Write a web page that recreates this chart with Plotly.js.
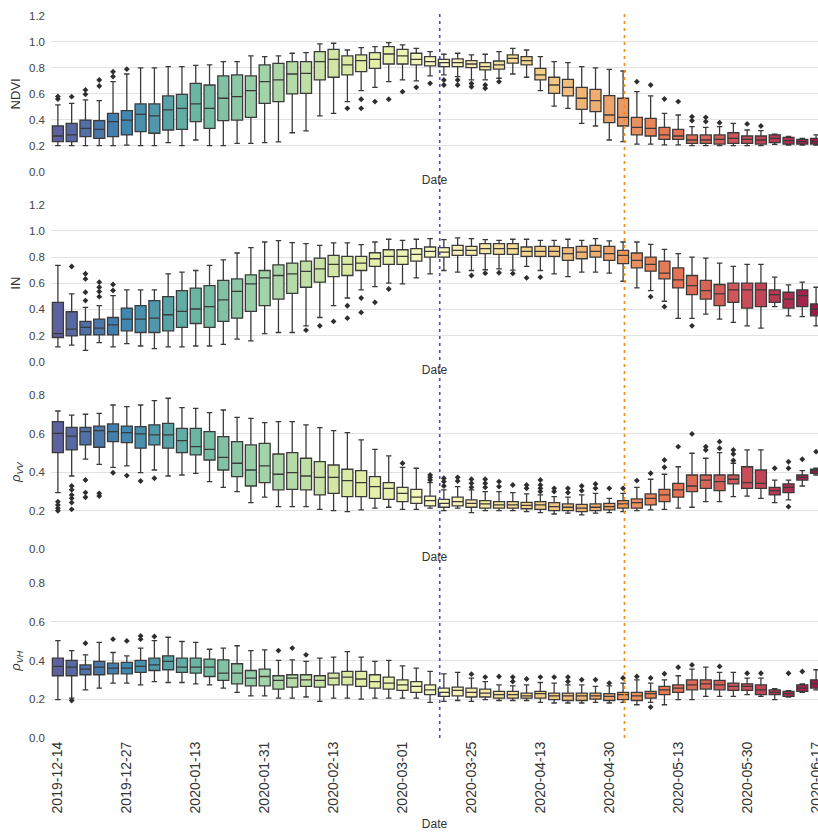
<!DOCTYPE html>
<html>
<head>
<meta charset="utf-8">
<script src="https://cdn.plot.ly/plotly-3.0.1.min.js"></script>
<style>html,body{margin:0;padding:0;background:#fff;}#chart{width:818px;height:839px;}</style>
</head>
<body>
<div id="chart"></div>
<script>
// ---- categories (acquisition dates) ----
const dates = ["2019-12-14","2019-12-16","2019-12-19","2019-12-21","2019-12-24","2019-12-27","2019-12-29","2020-01-01","2020-01-05","2020-01-08",
"2020-01-13","2020-01-16","2020-01-20","2020-01-24","2020-01-28","2020-01-31","2020-02-02","2020-02-05","2020-02-08","2020-02-10",
"2020-02-13","2020-02-16","2020-02-19","2020-02-22","2020-02-26","2020-03-01","2020-03-06","2020-03-11","2020-03-16","2020-03-20",
"2020-03-25","2020-03-29","2020-04-02","2020-04-06","2020-04-09","2020-04-13","2020-04-16","2020-04-20","2020-04-23","2020-04-27",
"2020-04-30","2020-05-03","2020-05-05","2020-05-08","2020-05-11","2020-05-13","2020-05-16","2020-05-20","2020-05-23","2020-05-27",
"2020-05-30","2020-06-03","2020-06-06","2020-06-09","2020-06-13","2020-06-17"];
const tickDates = ["2019-12-14","2019-12-27","2020-01-13","2020-01-31","2020-02-13","2020-03-01","2020-03-25","2020-04-13","2020-04-30","2020-05-13","2020-05-30","2020-06-17"];

// ---- NDVI ----
const ndviQ1  = [0.231,0.231,0.27,0.257,0.27,0.283,0.308,0.296,0.321,0.326,0.386,0.334,0.393,0.398,0.419,0.527,0.54,0.599,0.604,0.707,0.728,0.746,0.771,0.797,0.83,0.83,0.823,0.815,0.81,0.81,0.802,0.784,0.79,0.836,0.823,0.707,0.604,0.584,0.48,0.463,0.378,0.352,0.283,0.275,0.249,0.249,0.218,0.218,0.213,0.218,0.218,0.213,0.224,0.213,0.213,0.213];
const ndviMed = [0.275,0.283,0.334,0.326,0.386,0.398,0.442,0.43,0.476,0.488,0.522,0.488,0.566,0.578,0.625,0.694,0.707,0.753,0.758,0.848,0.866,0.823,0.856,0.866,0.907,0.892,0.866,0.848,0.84,0.84,0.83,0.81,0.823,0.874,0.856,0.746,0.668,0.65,0.566,0.548,0.437,0.419,0.342,0.334,0.283,0.275,0.244,0.244,0.249,0.257,0.249,0.244,0.257,0.239,0.231,0.231];
const ndviQ3  = [0.352,0.373,0.398,0.393,0.45,0.47,0.522,0.522,0.584,0.596,0.681,0.668,0.738,0.746,0.738,0.823,0.835,0.848,0.848,0.925,0.943,0.892,0.90,0.918,0.964,0.943,0.913,0.887,0.866,0.869,0.856,0.84,0.853,0.90,0.887,0.797,0.728,0.712,0.65,0.635,0.586,0.566,0.419,0.411,0.342,0.326,0.283,0.283,0.283,0.30,0.275,0.275,0.283,0.265,0.249,0.257];
const ndviLo  = [0.20,0.20,0.20,0.20,0.20,0.205,0.20,0.20,0.224,0.20,0.244,0.20,0.20,0.218,0.218,0.224,0.23,0.30,0.314,0.43,0.45,0.54,0.625,0.65,0.694,0.707,0.70,0.738,0.746,0.733,0.707,0.707,0.72,0.753,0.728,0.625,0.506,0.488,0.373,0.352,0.244,0.231,0.213,0.213,0.206,0.206,0.20,0.20,0.20,0.20,0.20,0.20,0.21,0.205,0.205,0.205];
const ndviHi  = [0.515,0.527,0.553,0.548,0.694,0.753,0.80,0.80,0.81,0.81,0.82,0.823,0.848,0.848,0.892,0.887,0.892,0.913,0.918,0.985,0.99,0.938,0.956,0.964,0.995,0.977,0.951,0.925,0.905,0.913,0.90,0.905,0.925,0.951,0.938,0.887,0.848,0.84,0.81,0.80,0.789,0.776,0.617,0.584,0.45,0.437,0.347,0.342,0.347,0.373,0.321,0.316,0.29,0.272,0.257,0.283];
const ndviOutIdx = [0,0,1,2,2,3,3,4,4,5,21,22,22,23,24,25,26,27,28,28,29,29,30,30,31,31,32,42,43,44,45,46,46,47,47,48,50,51];
const ndviOutVal = [0.56,0.58,0.578,0.596,0.63,0.66,0.707,0.733,0.771,0.79,0.488,0.558,0.488,0.54,0.558,0.617,0.65,0.681,0.707,0.668,0.707,0.668,0.68,0.655,0.668,0.643,0.694,0.694,0.668,0.56,0.54,0.393,0.424,0.386,0.419,0.378,0.368,0.352];

// ---- IN ----
const inQ1  = [0.185,0.197,0.205,0.205,0.205,0.236,0.223,0.223,0.236,0.262,0.292,0.262,0.308,0.333,0.385,0.428,0.479,0.523,0.569,0.608,0.651,0.659,0.697,0.728,0.744,0.744,0.769,0.80,0.80,0.813,0.813,0.826,0.821,0.821,0.805,0.805,0.805,0.774,0.787,0.80,0.774,0.749,0.718,0.692,0.633,0.564,0.513,0.479,0.428,0.454,0.41,0.421,0.454,0.41,0.421,0.351];
const inMed = [0.215,0.249,0.262,0.256,0.282,0.326,0.326,0.333,0.359,0.385,0.403,0.421,0.472,0.538,0.595,0.641,0.659,0.672,0.69,0.71,0.744,0.744,0.754,0.787,0.805,0.805,0.821,0.844,0.838,0.851,0.851,0.864,0.864,0.864,0.844,0.844,0.844,0.826,0.838,0.844,0.826,0.813,0.774,0.744,0.677,0.626,0.582,0.544,0.518,0.549,0.549,0.549,0.513,0.479,0.505,0.403];
const inQ3  = [0.454,0.382,0.308,0.326,0.338,0.41,0.428,0.467,0.497,0.544,0.562,0.582,0.621,0.633,0.664,0.697,0.74,0.754,0.769,0.792,0.813,0.805,0.805,0.833,0.856,0.856,0.864,0.877,0.872,0.89,0.882,0.903,0.903,0.903,0.877,0.882,0.882,0.872,0.882,0.89,0.882,0.851,0.831,0.80,0.769,0.718,0.659,0.621,0.59,0.60,0.60,0.60,0.549,0.531,0.549,0.441];
const inLo  = [0.113,0.126,0.087,0.146,0.113,0.138,0.12,0.10,0.113,0.113,0.12,0.12,0.133,0.172,0.159,0.215,0.223,0.223,0.274,0.338,0.428,0.487,0.549,0.574,0.60,0.595,0.641,0.672,0.697,0.685,0.697,0.703,0.71,0.70,0.728,0.697,0.672,0.651,0.685,0.685,0.677,0.615,0.564,0.544,0.462,0.331,0.331,0.364,0.326,0.30,0.274,0.256,0.421,0.351,0.344,0.274];
const inHi  = [0.736,0.518,0.415,0.428,0.505,0.549,0.549,0.549,0.672,0.685,0.697,0.736,0.779,0.831,0.872,0.915,0.925,0.91,0.903,0.89,0.908,0.908,0.895,0.915,0.936,0.928,0.936,0.941,0.933,0.946,0.941,0.933,0.928,0.936,0.936,0.928,0.928,0.936,0.928,0.941,0.923,0.915,0.915,0.897,0.859,0.826,0.80,0.792,0.754,0.728,0.744,0.744,0.646,0.587,0.608,0.569];
const inOutIdx = [1,2,2,2,2,3,3,3,3,4,4,18,19,20,21,21,22,22,23,24,30,31,32,33,34,35,43,44,46];
const inOutVal = [0.728,0.467,0.531,0.633,0.672,0.497,0.536,0.569,0.608,0.544,0.59,0.241,0.274,0.308,0.428,0.333,0.487,0.377,0.454,0.556,0.659,0.677,0.68,0.675,0.641,0.646,0.497,0.421,0.274];

// ---- rho VV ----
const vvQ1  = [0.501,0.515,0.541,0.529,0.558,0.553,0.524,0.541,0.524,0.501,0.489,0.463,0.411,0.377,0.328,0.346,0.308,0.311,0.308,0.282,0.29,0.273,0.273,0.264,0.259,0.247,0.238,0.225,0.218,0.225,0.218,0.213,0.213,0.213,0.21,0.207,0.20,0.20,0.195,0.20,0.204,0.213,0.213,0.23,0.247,0.27,0.299,0.316,0.304,0.339,0.316,0.316,0.282,0.294,0.359,0.394];
const vvMed = [0.601,0.587,0.61,0.615,0.61,0.605,0.598,0.593,0.593,0.563,0.532,0.518,0.477,0.446,0.411,0.432,0.389,0.397,0.38,0.373,0.373,0.356,0.346,0.325,0.316,0.29,0.27,0.252,0.238,0.247,0.238,0.235,0.23,0.23,0.228,0.23,0.221,0.218,0.213,0.218,0.221,0.235,0.242,0.264,0.282,0.308,0.328,0.359,0.351,0.363,0.346,0.342,0.304,0.321,0.373,0.408];
const vvQ3  = [0.662,0.632,0.632,0.639,0.65,0.639,0.636,0.645,0.653,0.627,0.627,0.61,0.584,0.558,0.541,0.549,0.494,0.501,0.472,0.454,0.437,0.415,0.408,0.377,0.346,0.321,0.311,0.276,0.259,0.27,0.256,0.252,0.247,0.247,0.243,0.247,0.242,0.235,0.233,0.235,0.238,0.252,0.261,0.287,0.311,0.342,0.385,0.385,0.385,0.385,0.428,0.411,0.321,0.339,0.385,0.415];
const vvLo  = [0.294,0.38,0.467,0.44,0.425,0.432,0.397,0.411,0.38,0.385,0.394,0.351,0.321,0.299,0.242,0.27,0.221,0.221,0.221,0.207,0.20,0.195,0.204,0.213,0.218,0.207,0.207,0.213,0.20,0.213,0.19,0.20,0.20,0.20,0.195,0.19,0.183,0.187,0.178,0.187,0.19,0.195,0.20,0.204,0.207,0.213,0.218,0.247,0.247,0.273,0.276,0.264,0.242,0.256,0.328,0.385];
const vvHi  = [0.717,0.696,0.70,0.705,0.748,0.74,0.748,0.771,0.783,0.734,0.731,0.708,0.722,0.684,0.679,0.657,0.662,0.662,0.645,0.631,0.615,0.605,0.567,0.518,0.484,0.425,0.42,0.346,0.308,0.325,0.308,0.299,0.299,0.294,0.287,0.282,0.273,0.27,0.282,0.29,0.264,0.29,0.321,0.363,0.389,0.428,0.498,0.472,0.501,0.446,0.515,0.515,0.359,0.359,0.408,0.42];
const vvOutIdx = [0,0,0,0,1,1,1,1,1,1,2,2,2,3,3,4,5,6,7,25,27,27,27,28,28,28,29,29,30,30,30,31,31,31,32,32,33,34,34,35,35,35,35,36,36,37,37,38,38,39,39,40,41,42,43,44,44,45,46,47,47,48,48,49,49,49,52,53,53,53,54,55];
const vvOutVal = [0.247,0.23,0.213,0.20,0.328,0.308,0.282,0.264,0.242,0.207,0.359,0.294,0.27,0.29,0.276,0.397,0.382,0.354,0.368,0.446,0.359,0.373,0.385,0.328,0.351,0.368,0.354,0.373,0.321,0.342,0.363,0.321,0.342,0.363,0.325,0.351,0.333,0.316,0.333,0.299,0.316,0.333,0.359,0.299,0.316,0.294,0.316,0.304,0.328,0.316,0.339,0.316,0.316,0.356,0.394,0.425,0.463,0.532,0.598,0.515,0.532,0.524,0.558,0.46,0.494,0.515,0.42,0.221,0.42,0.454,0.467,0.506];

// ---- rho VH ----
const vhQ1  = [0.322,0.322,0.327,0.327,0.332,0.332,0.339,0.349,0.353,0.339,0.335,0.318,0.298,0.28,0.27,0.27,0.253,0.263,0.267,0.263,0.275,0.275,0.267,0.258,0.253,0.246,0.236,0.224,0.215,0.218,0.212,0.212,0.206,0.206,0.206,0.206,0.198,0.194,0.194,0.201,0.194,0.198,0.194,0.206,0.224,0.236,0.249,0.253,0.249,0.246,0.246,0.224,0.224,0.215,0.241,0.258];
const vhMed = [0.37,0.366,0.356,0.366,0.361,0.361,0.37,0.378,0.396,0.366,0.366,0.366,0.335,0.335,0.31,0.318,0.298,0.31,0.301,0.298,0.31,0.315,0.305,0.292,0.284,0.275,0.267,0.249,0.236,0.246,0.236,0.232,0.224,0.224,0.218,0.229,0.218,0.218,0.218,0.218,0.215,0.224,0.218,0.229,0.249,0.258,0.275,0.28,0.275,0.267,0.267,0.249,0.236,0.229,0.258,0.28];
const vhQ3  = [0.413,0.401,0.378,0.396,0.387,0.391,0.401,0.413,0.425,0.413,0.413,0.408,0.404,0.384,0.349,0.356,0.322,0.327,0.327,0.322,0.335,0.344,0.344,0.327,0.315,0.301,0.292,0.275,0.258,0.263,0.258,0.253,0.241,0.241,0.232,0.241,0.232,0.232,0.232,0.232,0.229,0.236,0.236,0.241,0.267,0.275,0.301,0.301,0.298,0.284,0.28,0.275,0.249,0.241,0.275,0.301];
const vhLo  = [0.198,0.206,0.249,0.258,0.284,0.284,0.275,0.292,0.287,0.287,0.28,0.275,0.258,0.236,0.218,0.218,0.206,0.206,0.212,0.189,0.206,0.206,0.201,0.206,0.206,0.206,0.206,0.184,0.189,0.194,0.189,0.198,0.194,0.194,0.194,0.184,0.181,0.181,0.181,0.184,0.181,0.184,0.172,0.184,0.172,0.198,0.198,0.215,0.215,0.215,0.224,0.215,0.198,0.212,0.236,0.249];
const vhHi  = [0.504,0.452,0.43,0.494,0.442,0.425,0.465,0.504,0.521,0.499,0.494,0.459,0.465,0.477,0.452,0.456,0.401,0.404,0.396,0.413,0.418,0.447,0.418,0.396,0.401,0.373,0.361,0.344,0.332,0.339,0.31,0.292,0.275,0.27,0.275,0.287,0.284,0.275,0.275,0.267,0.27,0.284,0.301,0.284,0.301,0.322,0.356,0.366,0.339,0.339,0.31,0.31,0.255,0.245,0.28,0.353];
const vhOutIdx = [1,2,4,5,6,6,7,16,17,18,30,31,32,33,33,34,35,36,37,37,38,39,40,41,42,43,43,44,45,46,48,50,51,53,54];
const vhOutVal = [0.194,0.49,0.511,0.502,0.511,0.528,0.525,0.452,0.465,0.43,0.33,0.315,0.318,0.292,0.315,0.305,0.315,0.315,0.292,0.315,0.301,0.301,0.284,0.31,0.318,0.31,0.16,0.332,0.366,0.378,0.37,0.335,0.335,0.335,0.344];

// reference dates (as category positions)
const blueLinePos = 27.7;
const orangeLinePos = 41.1;

// ---- colours: seaborn Spectral_r, slightly desaturated ----
const spectral = ["#9e0142","#d53e4f","#f46d43","#fdae61","#fee08b","#ffffbf","#e6f598","#abdda4","#66c2a5","#3288bd","#5e4fa2"].reverse();
function hex2rgb(h){return [1,3,5].map(i=>parseInt(h.substr(i,2),16)/255);}
function rgb2hls(r,g,b){const mx=Math.max(r,g,b),mn=Math.min(r,g,b);const l=(mx+mn)/2;if(mx===mn)return[0,l,0];const d=mx-mn;const s=l<=0.5?d/(mx+mn):d/(2-mx-mn);let h;if(mx===r)h=((g-b)/d)%6;else if(mx===g)h=(b-r)/d+2;else h=(r-g)/d+4;h/=6;if(h<0)h+=1;return[h,l,s];}
function hls2rgb(h,l,s){if(s===0)return[l,l,l];const m2=l<=0.5?l*(1+s):l+s-l*s;const m1=2*l-m2;function v(hh){hh=((hh%1)+1)%1;if(hh<1/6)return m1+(m2-m1)*hh*6;if(hh<0.5)return m2;if(hh<2/3)return m1+(m2-m1)*(2/3-hh)*6;return m1;}return[v(h+1/3),v(h),v(h-1/3)];}
function paletteColor(t){const p=t*10;const k=Math.min(9,Math.floor(p));const f=p-k;const a=hex2rgb(spectral[k]),b=hex2rgb(spectral[k+1]);let c=a.map((x,i)=>x+(b[i]-x)*f);const hls=rgb2hls(c[0],c[1],c[2]);c=hls2rgb(hls[0],hls[1],hls[2]*0.82);return 'rgb('+c.map(x=>Math.round(x*255)).join(',')+')';}
const n = dates.length;
const colors = dates.map((d,i)=>paletteColor((i+1)/(n+1)));

const panels = [
  {q1:ndviQ1,med:ndviMed,q3:ndviQ3,lo:ndviLo,hi:ndviHi,oi:ndviOutIdx,ov:ndviOutVal,xa:'x',ya:'y'},
  {q1:inQ1,med:inMed,q3:inQ3,lo:inLo,hi:inHi,oi:inOutIdx,ov:inOutVal,xa:'x2',ya:'y2'},
  {q1:vvQ1,med:vvMed,q3:vvQ3,lo:vvLo,hi:vvHi,oi:vvOutIdx,ov:vvOutVal,xa:'x3',ya:'y3'},
  {q1:vhQ1,med:vhMed,q3:vhQ3,lo:vhLo,hi:vhHi,oi:vhOutIdx,ov:vhOutVal,xa:'x4',ya:'y4'}
];
const traces = [];
panels.forEach(p=>{
  dates.forEach((d,i)=>{
    traces.push({type:'box',x:[d],q1:[p.q1[i]],median:[p.med[i]],q3:[p.q3[i]],lowerfence:[p.lo[i]],upperfence:[p.hi[i]],
      boxpoints:false,width:0.8,whiskerwidth:0.5,fillcolor:colors[i],line:{color:'#3a3a3a',width:1.3},
      xaxis:p.xa,yaxis:p.ya,showlegend:false,hoverinfo:'skip'});
  });
  traces.push({type:'scatter',mode:'markers',x:p.oi.map(i=>dates[i]),y:p.ov,xaxis:p.xa,yaxis:p.ya,
    marker:{symbol:'diamond',size:4.5,color:'#2e2e2e'},showlegend:false,hoverinfo:'skip'});
});

const font = {family:'"Liberation Sans", Arial, sans-serif', size:12, color:'#333'};
function xax(anchor, showLabels){
  return {domain:[0,1],anchor:anchor,type:'category',categoryorder:'array',categoryarray:dates,range:[-0.5,55.14],
    showgrid:false,zeroline:false,showline:false,ticks:'',showticklabels:showLabels,
    tickmode:'array',tickvals:tickDates,ticktext:tickDates,tickangle:-90,tickfont:{size:14,color:'#333'},
    title:{text:'Date',font:{size:12,color:'#333'},standoff:showLabels?7:3}};
}
function yax(anchor, dom, top, title){
  return {domain:dom,anchor:anchor,range:[0,top],dtick:0.2,tick0:0,tickformat:'.1f',showgrid:true,gridcolor:'#e2e2e2',gridwidth:1,
    zeroline:false,showline:false,ticks:'',tickfont:{size:11.5,color:'#444'},ticklabelstandoff:5,
    title:{text:title,font:{size:13,color:'#333'},standoff:5}};
}
const layout = {
  width:818,height:839,margin:{l:51,r:0,t:16,b:101},paper_bgcolor:'#fff',plot_bgcolor:'#fff',font:font,boxmode:'overlay',showlegend:false,
  xaxis:xax('y',false), xaxis2:xax('y2',false), xaxis3:xax('y3',false), xaxis4:xax('y4',true),
  yaxis:yax('x',[0.7844,1],1.2,'NDVI'),
  yaxis2:yax('x2',[0.5212,0.7386],1.2,'IN'),
  yaxis3:yax('x3',[0.2614,0.4751],0.8,'<i>ρ</i><sub><i>VV</i></sub>'),
  yaxis4:yax('x4',[0,0.2143],0.8,'<i>ρ</i><sub><i>VH</i></sub>'),
  shapes:[
    {type:'line',xref:'x',yref:'paper',x0:blueLinePos,x1:blueLinePos,y0:0,y1:1.008,line:{color:'#4a4ad0',width:1.6,dash:'3px,4px'}},
    {type:'line',xref:'x',yref:'paper',x0:orangeLinePos,x1:orangeLinePos,y0:0,y1:1.008,line:{color:'#f28a1e',width:1.6,dash:'3px,4px'}}
  ]
};
Plotly.newPlot('chart',traces,layout,{staticPlot:true,displayModeBar:false});
</script>
</body>
</html>
